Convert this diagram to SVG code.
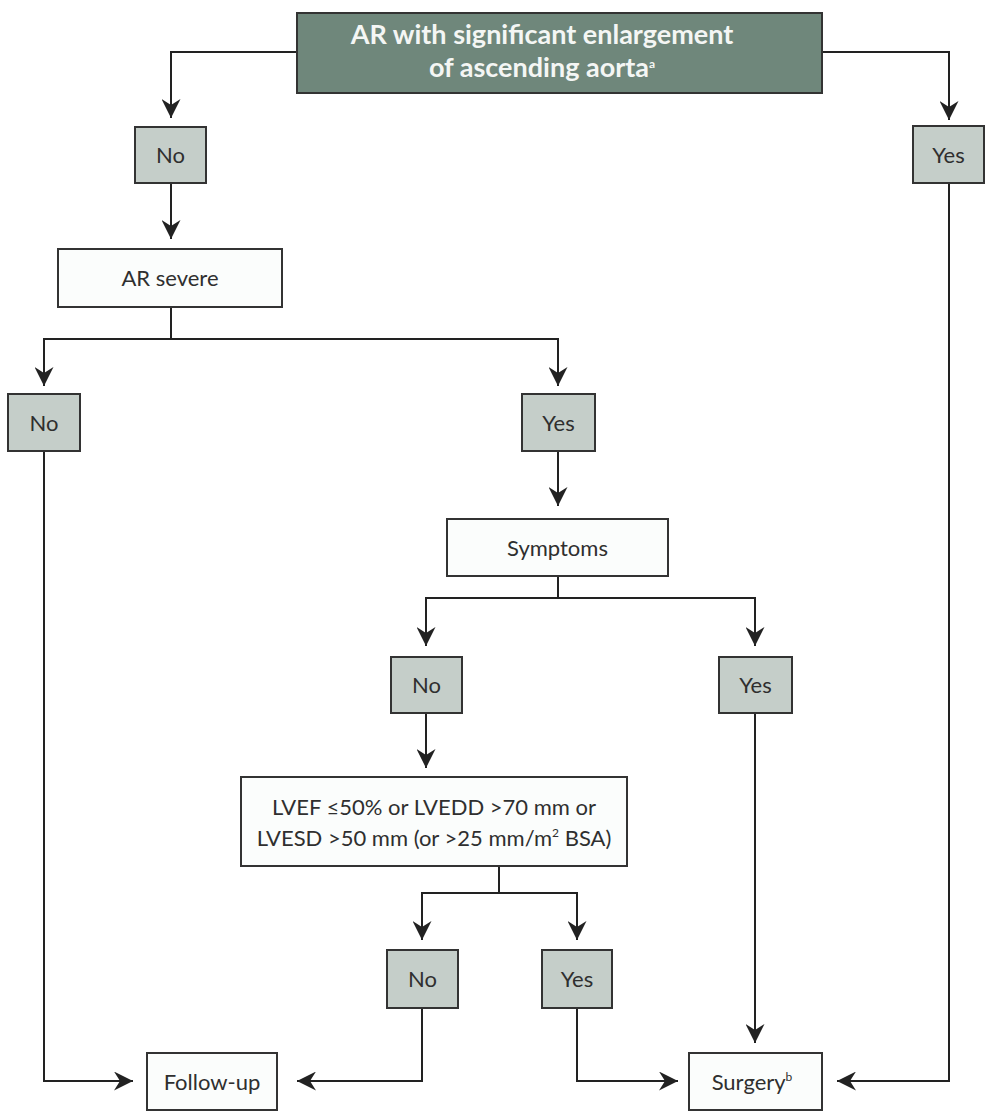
<svg xmlns="http://www.w3.org/2000/svg" width="992" height="1112" viewBox="0 0 992 1112">
  <defs>
    <marker id="arrow" viewBox="0 0 19 19" refX="19" refY="9.5" markerWidth="19" markerHeight="19" markerUnits="userSpaceOnUse" orient="auto">
      <path d="M19,9.5 L0,0 L6,9.5 L0,19 Z" fill="#222"/>
    </marker>
    <style>
      .title { fill: #6f877b; stroke: #333; stroke-width: 2; }
      .choice { fill: #c5cec9; stroke: #333; stroke-width: 2; }
      .step { fill: #fbfdfc; stroke: #333; stroke-width: 2; }
      .lbl { font-family: Lato, "Open Sans", "Liberation Sans", sans-serif; font-size: 22px; fill: #2f2f2f; text-anchor: middle; }
      .head { font-family: Lato, "Open Sans", "Liberation Sans", sans-serif; font-size: 27px; font-weight: bold; fill: #f4f6f4; text-anchor: middle; }
      .sup { font-size: 12px; }
      .wire { fill: none; stroke: #222; stroke-width: 2; }
      .tip { marker-end: url(#arrow); }
    </style>
  </defs>
  <rect width="992" height="1112" fill="#ffffff"/>

  <!-- connectors -->
  <g id="connectors">
    <path class="wire tip" d="M297,52 H171 V118"/>
    <path class="wire tip" d="M822,52 H949 V120"/>
    <path class="wire tip" d="M171,183 V239"/>
    <path class="wire" d="M171,307 V339"/>
    <path class="wire tip" d="M171,339 H44 V386"/>
    <path class="wire tip" d="M171,339 H558 V386"/>
    <path class="wire tip" d="M44,451 V1081 H133"/>
    <path class="wire tip" d="M558,451 V506"/>
    <path class="wire" d="M558,576 V598"/>
    <path class="wire tip" d="M558,598 H426 V646"/>
    <path class="wire tip" d="M558,598 H755 V646"/>
    <path class="wire tip" d="M426,713 V768"/>
    <path class="wire" d="M499,866 V893"/>
    <path class="wire tip" d="M499,893 H422 V940"/>
    <path class="wire tip" d="M499,893 H577 V940"/>
    <path class="wire tip" d="M422,1008 V1081 H297"/>
    <path class="wire tip" d="M577,1008 V1081 H678"/>
    <path class="wire tip" d="M755,713 V1043"/>
    <path class="wire tip" d="M949,183 V1081 H837"/>
  </g>

  <g id="aorta-enlargement">
    <rect class="title" x="297" y="13" width="525" height="80"/>
    <text class="head" x="542" y="44">AR with significant enlargement</text>
    <text class="head" x="542" y="77">of ascending aorta<tspan class="sup" dy="-9">a</tspan></text>
  </g>

  <g id="aorta-no">
    <rect class="choice" x="135" y="127" width="71" height="56"/>
    <text class="lbl" x="170.5" y="163">No</text>
  </g>

  <g id="aorta-yes">
    <rect class="choice" x="913" y="126" width="71" height="57"/>
    <text class="lbl" x="948.5" y="163">Yes</text>
  </g>

  <g id="ar-severe">
    <rect class="step" x="58" y="249" width="224" height="58"/>
    <text class="lbl" x="170" y="286">AR severe</text>
  </g>

  <g id="severe-no">
    <rect class="choice" x="8" y="394" width="72" height="57"/>
    <text class="lbl" x="44" y="431">No</text>
  </g>

  <g id="severe-yes">
    <rect class="choice" x="522" y="394" width="73" height="57"/>
    <text class="lbl" x="558.5" y="431">Yes</text>
  </g>

  <g id="symptoms">
    <rect class="step" x="447" y="519" width="221" height="57"/>
    <text class="lbl" x="557.5" y="556">Symptoms</text>
  </g>

  <g id="symptoms-no">
    <rect class="choice" x="391" y="657" width="71" height="56"/>
    <text class="lbl" x="426.5" y="693">No</text>
  </g>

  <g id="symptoms-yes">
    <rect class="choice" x="719" y="657" width="73" height="56"/>
    <text class="lbl" x="755.5" y="693">Yes</text>
  </g>

  <g id="lv-criteria">
    <rect class="step" x="241" y="777" width="386" height="89"/>
    <text class="lbl" x="434" y="815">LVEF ≤50% or LVEDD &gt;70 mm or</text>
    <text class="lbl" x="434" y="846">LVESD &gt;50 mm (or &gt;25 mm/m<tspan class="sup" dy="-9">2</tspan><tspan dy="9"> BSA)</tspan></text>
  </g>

  <g id="criteria-no">
    <rect class="choice" x="387" y="950" width="71" height="58"/>
    <text class="lbl" x="422.5" y="987">No</text>
  </g>

  <g id="criteria-yes">
    <rect class="choice" x="542" y="950" width="70" height="58"/>
    <text class="lbl" x="577" y="987">Yes</text>
  </g>

  <g id="follow-up">
    <rect class="step" x="147" y="1053" width="130" height="57"/>
    <text class="lbl" x="212" y="1090">Follow-up</text>
  </g>

  <g id="surgery">
    <rect class="step" x="689" y="1053" width="133" height="57"/>
    <text class="lbl" x="752" y="1090">Surgery<tspan class="sup" dy="-9">b</tspan></text>
  </g>
</svg>
